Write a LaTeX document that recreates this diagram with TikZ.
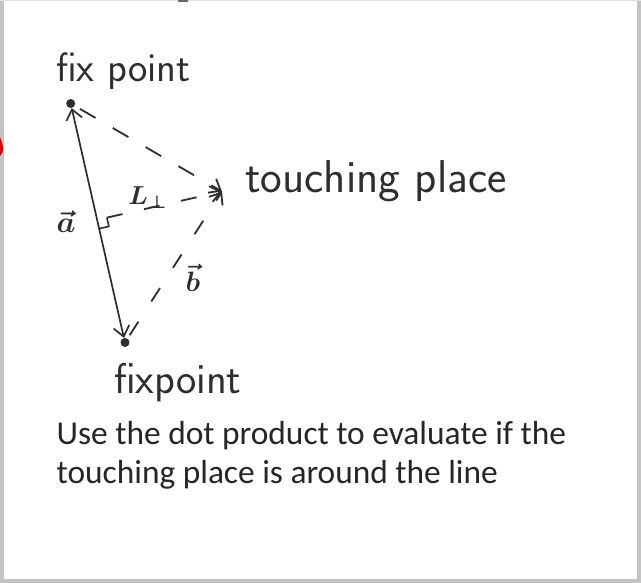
\documentclass[tikz,border=0pt]{standalone}
\usepackage{fontspec}
\usepackage{graphicx}
\newfontfamily\calibri{Carlito}
\usetikzlibrary{arrows.meta,calc}
\definecolor{ink}{HTML}{2E2E2E}
\definecolor{txt}{HTML}{262626}
\definecolor{framegray}{HTML}{C4C4C4}
\tikzset{
  dotnode/.style={circle, fill=ink, inner sep=0pt, minimum size=9pt},
  solidline/.style={draw=ink, line width=1.7pt},
  dashline/.style={draw=ink, line width=1.8pt, dash pattern=on 18pt off 20pt},
  barb/.style={-{Straight Barb[length=10pt,width=16pt]}},
  hand/.style={text=ink, inner sep=0pt, anchor=base west},
  lbl/.style={text=ink, inner sep=0pt},
  body/.style={text=txt, inner sep=0pt, anchor=base west, font=\calibri\fontsize{33.4}{39}\selectfont}
}
\begin{document}
\begin{tikzpicture}[x=1pt,y=-1pt]
\useasboundingbox (0,0) rectangle (641,583);
\fill[white] (0,0) rectangle (641,583);
% slide frame
\fill[framegray] (0,0) rectangle (3.5,583);
\fill[framegray] (637,0) rectangle (641,583);
\fill[framegray] (0,578.5) rectangle (641,583);
\fill[black!12] (0,0) rectangle (641,1);
\fill[black!60] (178,0) rectangle (188,2.5);
\fill[red!90!black] (0,137) .. controls (2,142) and (3,146) .. (3,149) .. controls (3,152) .. (0,156) -- cycle;

% points
\node[dotnode] (top) at (70.7,103.5) {};
\node[dotnode] (bot) at (125,342.5) {};
\coordinate (T) at (222,191.5);
\coordinate (F) at ($(top)!(T)!(bot)$);

% solid double arrow
\draw[solidline, {Straight Barb[length=10pt,width=16pt]}-{Straight Barb[length=10pt,width=16pt]}] (top) -- (bot);

% dashed connectors to touching place
\draw[dashline, barb, dash phase=-6pt] (top) -- (T);
\draw[dashline, barb, dash pattern=on 16pt off 24pt, dash phase=-4pt] (bot) -- (T);
\coordinate (Fs) at ($(F)!10pt!(T)$);
\draw[dashline, barb, dash pattern=on 16pt off 22pt] (Fs) -- (T);

% right angle mark
\coordinate (Fu) at ($(F)!9pt!(bot)$);
\coordinate (Fp) at ($(F)!10pt!(T)$);
\draw[ink, line width=1.6pt] (Fu) -- ($(Fu)+(Fp)-(F)$) -- (Fp);

% labels
\node[lbl] (la) at (66,222) {\scalebox{3}{\boldmath$\vec{a}$}};
\node[lbl] (lL) at (148,198) {\scalebox{2.6}{\boldmath$L_{\perp}$}};
\node[lbl] (lb) at (193,278) {\scalebox{2.8}{\boldmath$\vec{b}$}};

% handwritten texts
\node[hand, font=\sffamily\fontsize{41}{41}\selectfont] (fp1) at (56,82) {fix point};
\node[hand, font=\sffamily\fontsize{46}{46}\selectfont] (tpl) at (245,193) {touching place};
\node[hand, font=\sffamily\fontsize{43}{43}\selectfont] (fp2) at (114,393) {fixpoint};

% caption
\node[body] (l1) at (56.5,444.3) {Use the dot product to evaluate if the};
\node[body] (l2) at (56.5,483.3) {touching place is around the line};
\end{tikzpicture}
\end{document}
